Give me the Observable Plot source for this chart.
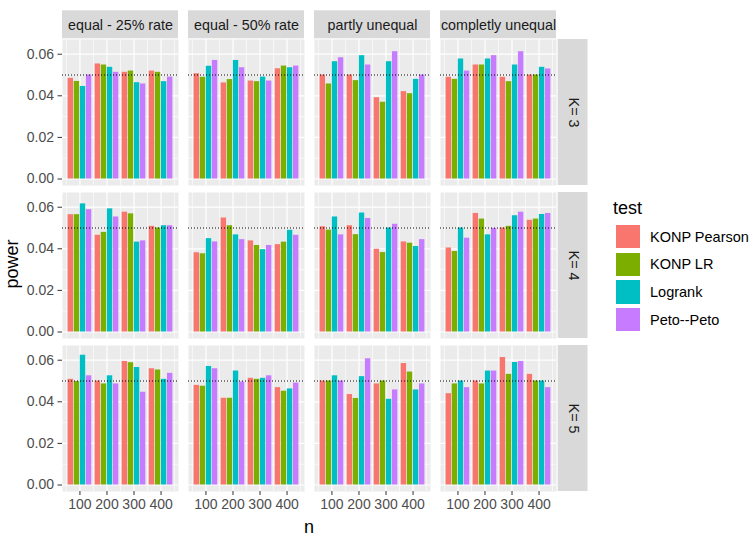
<!DOCTYPE html>
<html><head><meta charset="utf-8">
<script src="https://cdn.jsdelivr.net/npm/d3@7"></script>
<script src="https://cdn.jsdelivr.net/npm/@observablehq/plot@0.6"></script>
<style>
body{margin:0;background:#fff;font-family:"Liberation Sans",Arial,sans-serif;}
#wrap{position:relative;width:756px;height:539px;overflow:hidden;}
#wrap svg{position:absolute;left:0;top:0;}
.abs{position:absolute;white-space:nowrap;color:#000;}
</style></head><body><div id="wrap"></div>
<script>
// ---------- data ----------
const scenarios = ["equal - 25% rate", "equal - 50% rate", "partly unequal", "completly unequal"];
const kLabels = ["K= 3", "K= 4", "K= 5"];
const nValues = [100, 200, 300, 400];
const tests = ["KONP Pearson", "KONP LR", "Logrank", "Peto--Peto"];
const testColors = ["#F8766D", "#7CAE00", "#00BFC4", "#C77CFF"];
const yTicks = [0, 0.02, 0.04, 0.06];
const yMinor = [0.01, 0.03, 0.05];
const xMinor = [50, 150, 250, 350, 450];
const nominalLevel = 0.05;

// each row: values for n=100,200,300,400, and for each n the 4 tests in order
const powerK3 = [
  [0.0484,0.0469,0.0445,0.0500, 0.0553,0.0548,0.0537,0.0513, 0.0513,0.0519,0.0463,0.0457, 0.0519,0.0513,0.0468,0.0490],
  [0.0506,0.0489,0.0542,0.0570, 0.0462,0.0478,0.0570,0.0535, 0.0471,0.0468,0.0490,0.0471, 0.0530,0.0543,0.0535,0.0543],
  [0.0500,0.0457,0.0564,0.0583, 0.0500,0.0473,0.0593,0.0548, 0.0391,0.0369,0.0564,0.0612, 0.0420,0.0410,0.0479,0.0500],
  [0.0489,0.0479,0.0577,0.0519, 0.0548,0.0548,0.0577,0.0593, 0.0489,0.0468,0.0548,0.0612, 0.0500,0.0500,0.0537,0.0529]
];
const powerK4 = [
  [0.0564,0.0564,0.0616,0.0588, 0.0465,0.0479,0.0592,0.0553, 0.0576,0.0568,0.0432,0.0438, 0.0508,0.0500,0.0511,0.0511],
  [0.0381,0.0376,0.0449,0.0433, 0.0548,0.0511,0.0467,0.0444, 0.0438,0.0416,0.0396,0.0416, 0.0420,0.0432,0.0489,0.0465],
  [0.0506,0.0490,0.0553,0.0467, 0.0511,0.0468,0.0572,0.0546, 0.0398,0.0382,0.0500,0.0518, 0.0433,0.0427,0.0411,0.0444],
  [0.0404,0.0387,0.0500,0.0451, 0.0570,0.0543,0.0467,0.0498, 0.0500,0.0508,0.0559,0.0576, 0.0537,0.0543,0.0565,0.0570]
];
const powerK5 = [
  [0.0508,0.0497,0.0624,0.0525, 0.0500,0.0486,0.0525,0.0486, 0.0594,0.0588,0.0565,0.0446, 0.0559,0.0553,0.0508,0.0537],
  [0.0479,0.0475,0.0570,0.0559, 0.0417,0.0417,0.0548,0.0495, 0.0513,0.0508,0.0513,0.0525, 0.0468,0.0451,0.0462,0.0490],
  [0.0500,0.0500,0.0525,0.0500, 0.0435,0.0416,0.0521,0.0607, 0.0486,0.0500,0.0412,0.0457, 0.0584,0.0543,0.0457,0.0486],
  [0.0439,0.0486,0.0500,0.0468, 0.0500,0.0486,0.0548,0.0548, 0.0613,0.0532,0.0589,0.0594, 0.0532,0.0500,0.0500,0.0468]
];

// ---------- build table ----------
const byK = [powerK3, powerK4, powerK5];
const rows = [];
kLabels.forEach((K, ki) => scenarios.forEach((s, si) => nValues.forEach((n, ni) => tests.forEach((t, ti) => {
  rows.push({K, scenario: s, n, test: t, ti, power: byK[ki][si][ni * 4 + ti]});
}))));

// ---------- layout ----------
const W = 756, H = 539;
const mL = 62, mR = 200, mT = 38, mB = 48.2;
const panelW = 116, panelGapX = 10, panelH = 146, panelGapY = 7.4;
const xDom = [35.5, 464.5];
const yDom = [-0.003125, 0.06707];
const pxX = panelW / (xDom[1] - xDom[0]);
const pxY = panelH / (yDom[1] - yDom[0]);
const dodge = 90, barW = dodge / 4;
const stripGray = "#D9D9D9";

const chart = Plot.plot({
  width: W, height: H,
  marginLeft: mL, marginRight: mR, marginTop: mT, marginBottom: mB,
  style: {fontFamily: '"Liberation Sans", Arial, sans-serif', background: "transparent", overflow: "visible"},
  fx: {domain: scenarios, paddingInner: panelGapX / (panelW + panelGapX), paddingOuter: 0, axis: null},
  fy: {domain: kLabels, paddingInner: panelGapY / (panelH + panelGapY), paddingOuter: 0, axis: null},
  x: {domain: xDom, axis: null},
  y: {domain: yDom, axis: null},
  color: {domain: tests, range: testColors},
  marks: [
    Plot.frame({fill: "#EBEBEB", stroke: null}),
    Plot.ruleY(yMinor, {stroke: "white", strokeWidth: 0.6}),
    Plot.ruleY(yTicks, {stroke: "white", strokeWidth: 1.2}),
    Plot.ruleX(xMinor, {stroke: "white", strokeWidth: 0.6}),
    Plot.ruleX(nValues, {stroke: "white", strokeWidth: 1.2}),
    Plot.rectY(rows, {
      fx: "scenario", fy: "K",
      x1: d => d.n - dodge / 2 + d.ti * barW,
      x2: d => d.n - dodge / 2 + (d.ti + 1) * barW,
      y: "power", fill: "test", insetLeft: 0.35, insetRight: 0.35
    }),
    Plot.ruleY([nominalLevel], {stroke: "black", strokeWidth: 1.1, strokeDasharray: "1,2"}),
    // top strips
    Plot.rect(scenarios, {
      fx: d => d, fy: () => kLabels[0],
      x1: xDom[0], x2: xDom[1],
      y1: yDom[1] + 0.7 / pxY, y2: yDom[1] + 28.7 / pxY,
      fill: stripGray
    }),
    Plot.text(scenarios, {
      fx: d => d, fy: () => kLabels[0],
      x: (xDom[0] + xDom[1]) / 2, y: yDom[1] + 14.5 / pxY,
      text: d => d, fill: "#1A1A1A", fontSize: 14.3
    }),
    // right strips
    Plot.rect(kLabels, {
      fy: d => d, fx: () => scenarios[scenarios.length - 1],
      x1: xDom[1] + 1.7 / pxX, x2: xDom[1] + 31.5 / pxX,
      y1: yDom[0], y2: yDom[1],
      fill: stripGray
    }),
    Plot.text(kLabels, {
      fy: d => d, fx: () => scenarios[scenarios.length - 1],
      x: xDom[1] + 16.6 / pxX, y: (yDom[0] + yDom[1]) / 2,
      text: d => d, rotate: 90, fill: "#1A1A1A", fontSize: 14.3
    }),
    Plot.axisY(yTicks, {
      tickFormat: d3.format(".2f"), tickSize: 4.5, tickPadding: 4,
      fontSize: 14, color: "#4D4D4D", stroke: "#333333", label: null
    }),
    Plot.axisX(nValues, {
      tickSize: 4, tickPadding: 4, fontSize: 14, color: "#4D4D4D", stroke: "#333333", label: null
    })
  ]
});

const wrap = document.getElementById("wrap");
wrap.appendChild(chart);

// axis titles
const power = document.createElement("div");
power.className = "abs";
power.textContent = "power";
power.style.cssText += "font-size:18px;left:12px;top:264.4px;transform:translate(-50%,-50%) rotate(-90deg);";
wrap.appendChild(power);

const nLab = document.createElement("div");
nLab.className = "abs";
nLab.textContent = "n";
nLab.style.cssText += "font-size:18px;left:309px;top:526.5px;transform:translate(-50%,-50%);";
wrap.appendChild(nLab);

// legend
const title = document.createElement("div");
title.className = "abs";
title.textContent = "test";
title.style.cssText += "font-size:18px;left:613px;top:208px;transform:translateY(-50%);";
wrap.appendChild(title);
tests.forEach((t, i) => {
  const top = 225 + i * 27.7;
  const key = document.createElement("div");
  key.className = "abs";
  key.style.cssText += `left:615.7px;top:${top}px;width:24.3px;height:23.3px;background:${testColors[i]};`;
  wrap.appendChild(key);
  const lab = document.createElement("div");
  lab.className = "abs";
  lab.textContent = t;
  lab.style.cssText += `font-size:14.5px;left:650px;top:${top + 11.65}px;transform:translateY(-50%);`;
  wrap.appendChild(lab);
});
</script></body></html>
